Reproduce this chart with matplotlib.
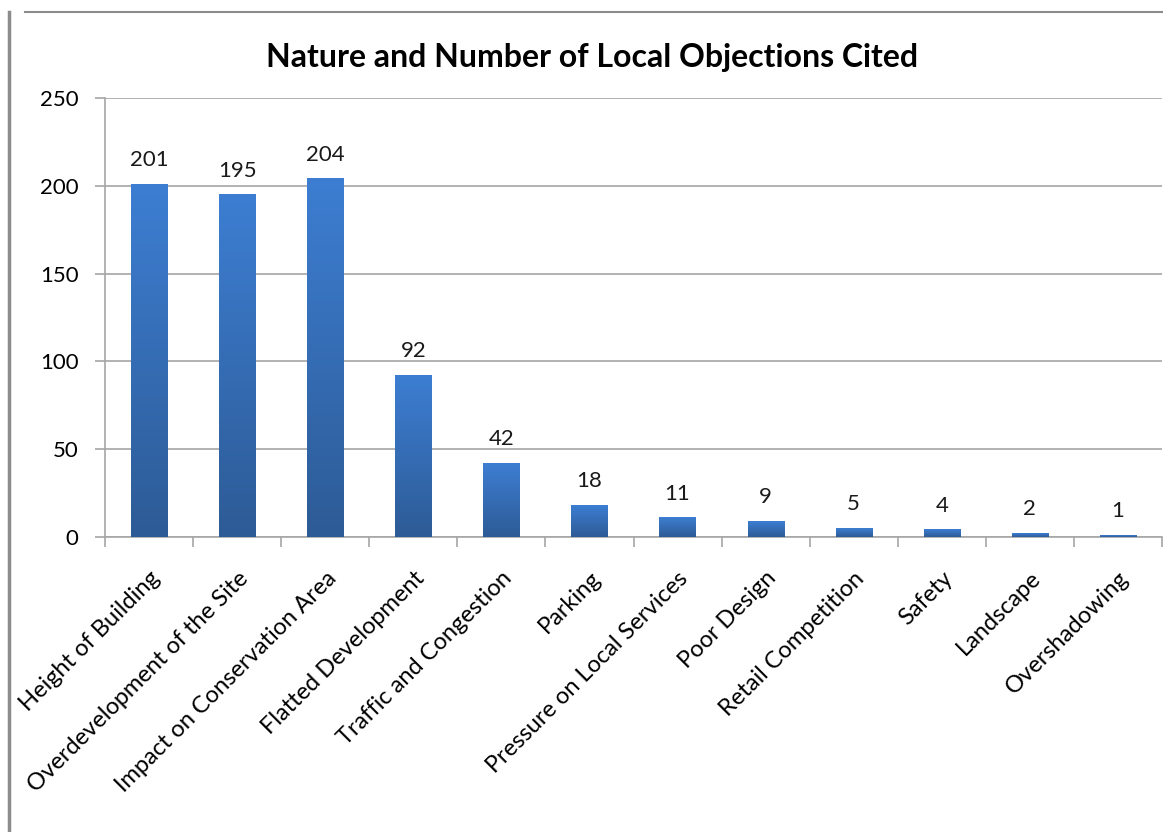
import matplotlib
matplotlib.use("Agg")
import matplotlib.pyplot as plt
import numpy as np
from matplotlib.lines import Line2D
from matplotlib.colors import LinearSegmentedColormap

categories = ["Height of Building", "Overdevelopment of the Site", "Impact on Conservation Area",
              "Flatted Development", "Traffic and Congestion", "Parking",
              "Pressure on Local Services", "Poor Design", "Retail Competition",
              "Safety", "Landscape", "Overshadowing"]
values = [201, 195, 204, 92, 42, 18, 11, 9, 5, 4, 2, 1]
yticks = [0, 50, 100, 150, 200, 250]
title = "Nature and Number of Local Objections Cited"

plt.rcParams['font.family'] = ['Lato', 'DejaVu Sans']

fig = plt.figure(figsize=(11.63, 8.32), dpi=100)
ax = fig.add_axes([105/1163, 1-537/832, (1162-105)/1163, (537-98)/832])

x = np.arange(len(categories))
bars = ax.bar(x, values, width=0.41, color='none', edgecolor='none', zorder=3)
cmap = LinearSegmentedColormap.from_list("g", ["#2D5B96", "#3D7ED2"])
grad = np.linspace(0, 1, 256).reshape(-1, 1)
for b in bars:
    x0, y0 = b.get_x(), b.get_y()
    w, h = b.get_width(), b.get_height()
    ax.imshow(grad, cmap=cmap, origin='lower', aspect='auto',
              extent=[x0, x0 + w, y0, y0 + h], zorder=3, interpolation='bilinear')
    ax.text(x0 + w / 2, h + 8, str(int(h)), ha='center', va='bottom', fontsize=16, color='#1a1a1a')

ax.set_xlim(-0.5, len(categories) - 0.5)
ax.set_ylim(0, 250)
ax.set_yticks(yticks)
ax.set_yticklabels([str(t) for t in yticks], fontsize=16)
ax.yaxis.grid(True, color='#A6A6A6', linewidth=1.2, zorder=0)
ax.set_axisbelow(True)
for s in ['top', 'right']:
    ax.spines[s].set_visible(False)
for s in ['left', 'bottom']:
    ax.spines[s].set_color('#A6A6A6')
    ax.spines[s].set_linewidth(1.2)
ax.tick_params(axis='y', length=7, color='#A6A6A6', width=1.2, pad=12)
ax.set_xticks(np.arange(len(categories) + 1) - 0.5, minor=False)
ax.set_xticklabels([])
ax.tick_params(axis='x', length=7, color='#A6A6A6', width=1.2)
ax.set_xticks(x, minor=True)
ax.set_xticklabels(categories, minor=True, rotation=45, ha='right', va='top',
                   rotation_mode='anchor', fontsize=17)
ax.tick_params(axis='x', which='minor', length=0, pad=22)

fig.text(592/1163, 1 - 58/832, title, ha='center', va='center', fontsize=23, fontweight='bold')

fig.add_artist(Line2D([9/1163, 9/1163], [0, 1 - 12/832], color='#8C8C8C', linewidth=2.5, transform=fig.transFigure))
fig.add_artist(Line2D([25/1163, 1], [1 - 12/832, 1 - 12/832], color='#8C8C8C', linewidth=1.5, transform=fig.transFigure))

fig.savefig("out.png", dpi=100)
